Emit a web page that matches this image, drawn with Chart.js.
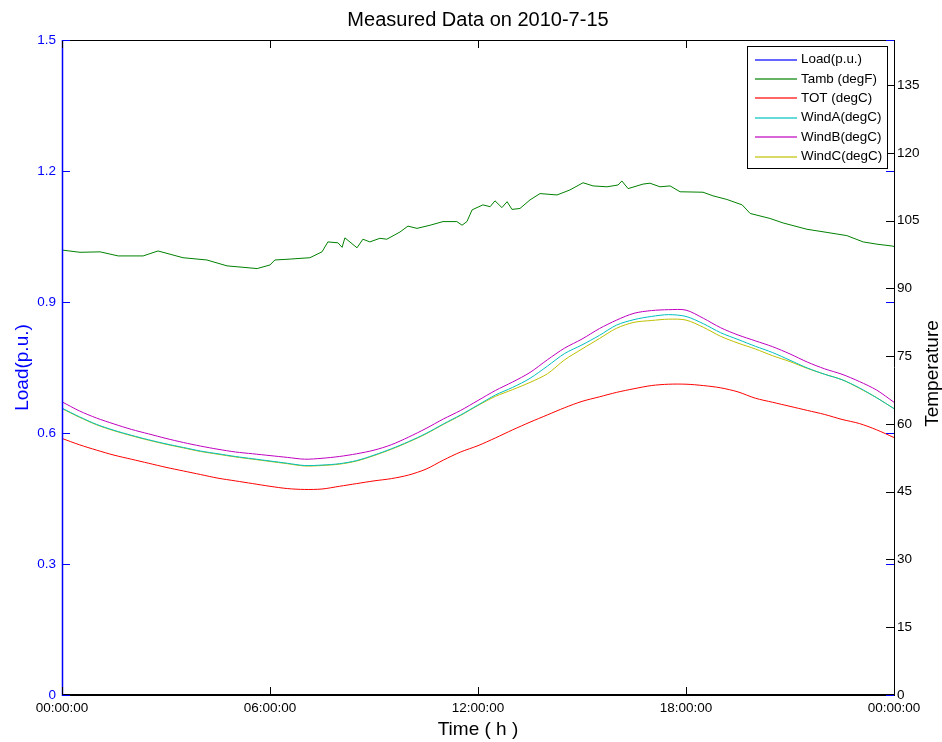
<!DOCTYPE html>
<html><head><meta charset="utf-8">
<script src="https://cdn.jsdelivr.net/npm/chart.js@4/dist/chart.umd.min.js"></script>
<style>html,body{margin:0;padding:0;background:#fff;}#wrap{width:942px;height:742px;}</style>
</head><body><div id="wrap"><canvas id="c" width="942" height="742"></canvas></div>
<script>
// ---- data ----
const hours = [0,0.5,1,1.5,2,2.5,3,3.5,4,4.5,5,5.5,6,6.5,7,7.5,8,8.5,9,9.5,10,10.5,11,11.5,12,12.5,13,13.5,14,14.5,15,15.5,16,16.5,17,17.5,18,18.5,19,19.5,20,20.5,21,21.5,22,22.5,23,23.5,24];
const loadValues = []; // Load(p.u.) has no visible trace in the reference
const totValues = [56.8,55.4,54.2,53.1,52.2,51.3,50.4,49.6,48.8,48.0,47.4,46.8,46.2,45.7,45.5,45.6,46.2,46.8,47.4,47.9,48.7,50.0,52.0,53.8,55.2,56.9,58.7,60.4,62.0,63.6,65.0,66.0,67.0,67.8,68.5,68.8,68.8,68.5,68.0,67.1,65.7,64.8,63.9,63.0,62.1,61.0,60.1,58.7,57.0];
const windAValues = [63.5,61.6,59.9,58.6,57.5,56.5,55.6,54.8,54.0,53.4,52.8,52.3,51.8,51.3,50.8,50.9,51.2,51.9,53.1,54.5,56.1,57.9,60.0,62.0,64.2,66.4,68.1,70.1,72.8,75.6,77.5,79.6,81.9,83.1,83.8,84.2,83.8,82.2,80.2,78.7,77.2,75.8,74.1,72.4,71.0,69.8,68.0,65.8,63.4];
const windBValues = [64.9,62.9,61.3,60.0,58.8,57.8,56.8,55.9,55.1,54.4,53.8,53.4,53.0,52.6,52.2,52.4,52.8,53.4,54.2,55.4,57.1,59.0,61.1,63.0,65.2,67.4,69.3,71.4,74.2,76.8,78.8,81.1,83.0,84.5,85.1,85.3,85.2,83.4,81.3,79.7,78.4,77.1,75.5,73.7,72.2,71.0,69.4,67.5,64.8];
const windCValues = [63.4,61.5,59.8,58.5,57.4,56.4,55.5,54.7,53.9,53.3,52.7,52.2,51.7,51.2,50.7,50.8,51.1,51.8,53.0,54.4,56.0,57.8,59.9,61.9,64.1,66.1,67.6,69.2,71.1,74.2,76.6,78.9,81.2,82.5,82.9,83.2,83.0,81.4,79.4,77.9,76.6,75.1,73.8,72.3,71.0,69.8,67.9,65.8,63.4];
const tambHours = [0,0.52,1.10,1.62,2.34,2.77,3.49,4.18,4.76,5.63,6.00,6.14,6.58,7.15,7.50,7.67,7.96,8.08,8.16,8.51,8.68,8.88,9.17,9.37,9.75,9.98,10.24,10.62,10.99,11.39,11.54,11.68,11.83,12.14,12.35,12.49,12.69,12.84,12.98,13.21,13.50,13.79,14.28,14.65,15.03,15.32,15.72,16.04,16.15,16.33,16.76,16.96,17.25,17.54,17.83,18.49,18.78,19.18,19.62,19.85,20.42,20.80,21.49,22.07,22.64,23.11,23.51,23.94,24];
const tambValues = [98.5,98.0,98.1,97.2,97.2,98.3,96.8,96.3,95.0,94.4,95.2,96.3,96.5,96.8,98.1,100.3,100.1,99.1,101.2,99.0,100.9,100.3,101.1,100.9,102.5,103.8,103.3,104.0,104.8,104.8,104.0,104.8,107.4,108.5,108.1,109.4,107.9,109.2,107.5,107.7,109.6,111.0,110.7,111.8,113.4,112.7,112.5,112.9,113.8,112.1,113.1,113.3,112.5,112.7,111.4,111.3,110.5,109.7,108.5,106.6,105.5,104.5,103.1,102.4,101.7,100.3,99.8,99.4,99.3];
const xTickValues = [0,6,12,18,24];
const xTickLabels = ['00:00:00','06:00:00','12:00:00','18:00:00','00:00:00'];
const loadTicks = [0,0.3,0.6,0.9,1.2,1.5];
const tempTicks = [0,15,30,45,60,75,90,105,120,135];
const seriesNames = ['Load(p.u.)','Tamb (degF)','TOT (degC)','WindA(degC)','WindB(degC)','WindC(degC)'];
const seriesColors = ['#0000ff','#008000','#ff0000','#00bfbf','#bf00bf','#bfbf00'];
const titleText = 'Measured Data on 2010-7-15';

// ---- chart ----
const FONT = "'Liberation Sans', Arial, Helvetica, sans-serif";
const pts = (xs, ys) => ys.map((y, i) => ({x: xs[i], y}));

const seriesData = [
  {data: pts(hours, loadValues), axis: 'yL'},
  {data: pts(tambHours, tambValues), axis: 'yR'},
  {data: pts(hours, totValues), axis: 'yR'},
  {data: pts(hours, windAValues), axis: 'yR'},
  {data: pts(hours, windBValues), axis: 'yR'},
  {data: pts(hours, windCValues), axis: 'yR'}
];

const datasets = seriesData.map((s, i) => ({
  label: seriesNames[i],
  data: s.data,
  yAxisID: s.axis,
  borderColor: seriesColors[i],
  backgroundColor: seriesColors[i],
  borderWidth: 1,
  pointRadius: 0,
  tension: i === 1 ? 0 : 0.3,
  fill: false
}));

const frame = {
  id: 'frame',
  afterDatasetsDraw(chart) {
    const {ctx, chartArea: a, scales} = chart;
    const sx = scales.x, yL = scales.yL, yR = scales.yR;
    ctx.save();
    // box lines
    ctx.lineWidth = 1;
    ctx.strokeStyle = '#000';
    ctx.beginPath(); ctx.moveTo(a.left, a.top + 0.5); ctx.lineTo(a.right, a.top + 0.5); ctx.stroke();
    ctx.beginPath(); ctx.moveTo(a.right + 0.5, a.top); ctx.lineTo(a.right + 0.5, a.bottom); ctx.stroke();
    ctx.lineWidth = 2;
    ctx.beginPath(); ctx.moveTo(a.left, a.bottom); ctx.lineTo(a.right + 1, a.bottom); ctx.stroke();
    ctx.lineWidth = 1.5;
    ctx.strokeStyle = '#0000ff';
    ctx.beginPath(); ctx.moveTo(a.left + 0.5, a.top); ctx.lineTo(a.left + 0.5, a.bottom + 1); ctx.stroke();
    // inward ticks
    const T = 8;
    ctx.lineWidth = 1;
    ctx.strokeStyle = '#000';
    xTickValues.forEach(v => {
      const px = Math.round(sx.getPixelForValue(v)) + 0.5;
      ctx.beginPath(); ctx.moveTo(px, a.bottom); ctx.lineTo(px, a.bottom - T); ctx.stroke();
      ctx.beginPath(); ctx.moveTo(px, a.top); ctx.lineTo(px, a.top + T); ctx.stroke();
    });
    tempTicks.forEach(v => {
      const py = Math.round(yR.getPixelForValue(v)) + 0.5;
      ctx.beginPath(); ctx.moveTo(a.right, py); ctx.lineTo(a.right - T, py); ctx.stroke();
    });
    ctx.strokeStyle = '#0000ff';
    loadTicks.forEach(v => {
      const py = Math.round(yL.getPixelForValue(v)) + 0.5;
      ctx.beginPath(); ctx.moveTo(a.left, py); ctx.lineTo(a.left + T, py); ctx.stroke();
      ctx.beginPath(); ctx.moveTo(a.right, py); ctx.lineTo(a.right - T, py); ctx.stroke();
    });
    // title
    ctx.fillStyle = '#000';
    ctx.font = '20px ' + FONT;
    ctx.textAlign = 'center';
    ctx.textBaseline = 'middle';
    ctx.fillText(titleText, (a.left + a.right) / 2, 20);
    // right axis title (reads bottom-to-top)
    ctx.save();
    ctx.translate(933, (a.top + a.bottom) / 2 + 6);
    ctx.rotate(-Math.PI / 2);
    ctx.font = '19px ' + FONT;
    ctx.fillText('Temperature', 0, 0);
    ctx.restore();
    // legend
    const bw = 140, bh = 122;
    const bx = a.right - 7 - bw, by = a.top + 6;
    ctx.fillStyle = '#fff';
    ctx.fillRect(bx, by, bw, bh);
    ctx.strokeStyle = '#000';
    ctx.lineWidth = 1;
    ctx.strokeRect(bx + 0.5, by + 0.5, bw, bh);
    ctx.font = '13.4px ' + FONT;
    ctx.textAlign = 'left';
    ctx.textBaseline = 'middle';
    chart.data.datasets.forEach((ds, i) => {
      const ly = by + 13.5 + i * 19.4;
      ctx.save();
      ctx.globalAlpha = 0.6;
      ctx.lineWidth = 2;
      ctx.strokeStyle = ds.borderColor;
      ctx.beginPath(); ctx.moveTo(bx + 8, Math.round(ly)); ctx.lineTo(bx + 50, Math.round(ly)); ctx.stroke();
      ctx.restore();
      ctx.fillStyle = '#000';
      ctx.fillText(ds.label, bx + 54, ly);
    });
    ctx.restore();
  }
};

new Chart(document.getElementById('c'), {
  type: 'line',
  data: {datasets},
  options: {
    responsive: false,
    animation: false,
    devicePixelRatio: 1,
    layout: {padding: {top: 40, left: 0, right: 0, bottom: 0}},
    plugins: {legend: {display: false}, title: {display: false}, tooltip: {enabled: false}},
    scales: {
      x: {
        type: 'linear', position: 'bottom', min: 0, max: 24,
        afterBuildTicks: s => { s.ticks = xTickValues.map(v => ({value: v})); },
        afterFit: s => { s.height = 47; },
        ticks: {
          autoSkip: false, maxRotation: 0, color: '#000', padding: 5,
          font: {family: FONT, size: 13.5},
          callback: (v) => xTickLabels[xTickValues.indexOf(v)]
        },
        grid: {display: false, drawTicks: false},
        border: {display: false},
        title: {display: true, text: 'Time ( h )', color: '#000', font: {family: FONT, size: 19}, padding: {top: 0, bottom: 1}}
      },
      yL: {
        type: 'linear', position: 'left', min: 0, max: 1.5,
        afterBuildTicks: s => { s.ticks = loadTicks.map(v => ({value: v})); },
        afterFit: s => { s.width = 62; },
        ticks: {color: '#0000ff', padding: 6, font: {family: FONT, size: 13.5}, callback: v => String(v)},
        grid: {display: false, drawTicks: false},
        border: {display: false},
        title: {display: true, text: 'Load(p.u.)', color: '#0000ff', font: {family: FONT, size: 19}, padding: {top: 11, bottom: 0}}
      },
      yR: {
        type: 'linear', position: 'right', min: 0, max: 145,
        afterBuildTicks: s => { s.ticks = tempTicks.map(v => ({value: v})); },
        afterFit: s => { s.width = 48; },
        ticks: {color: '#000', padding: 3, font: {family: FONT, size: 13.5}, callback: v => String(v)},
        grid: {display: false, drawTicks: false},
        border: {display: false}
      }
    }
  },
  plugins: [frame]
});
</script>
</body></html>
